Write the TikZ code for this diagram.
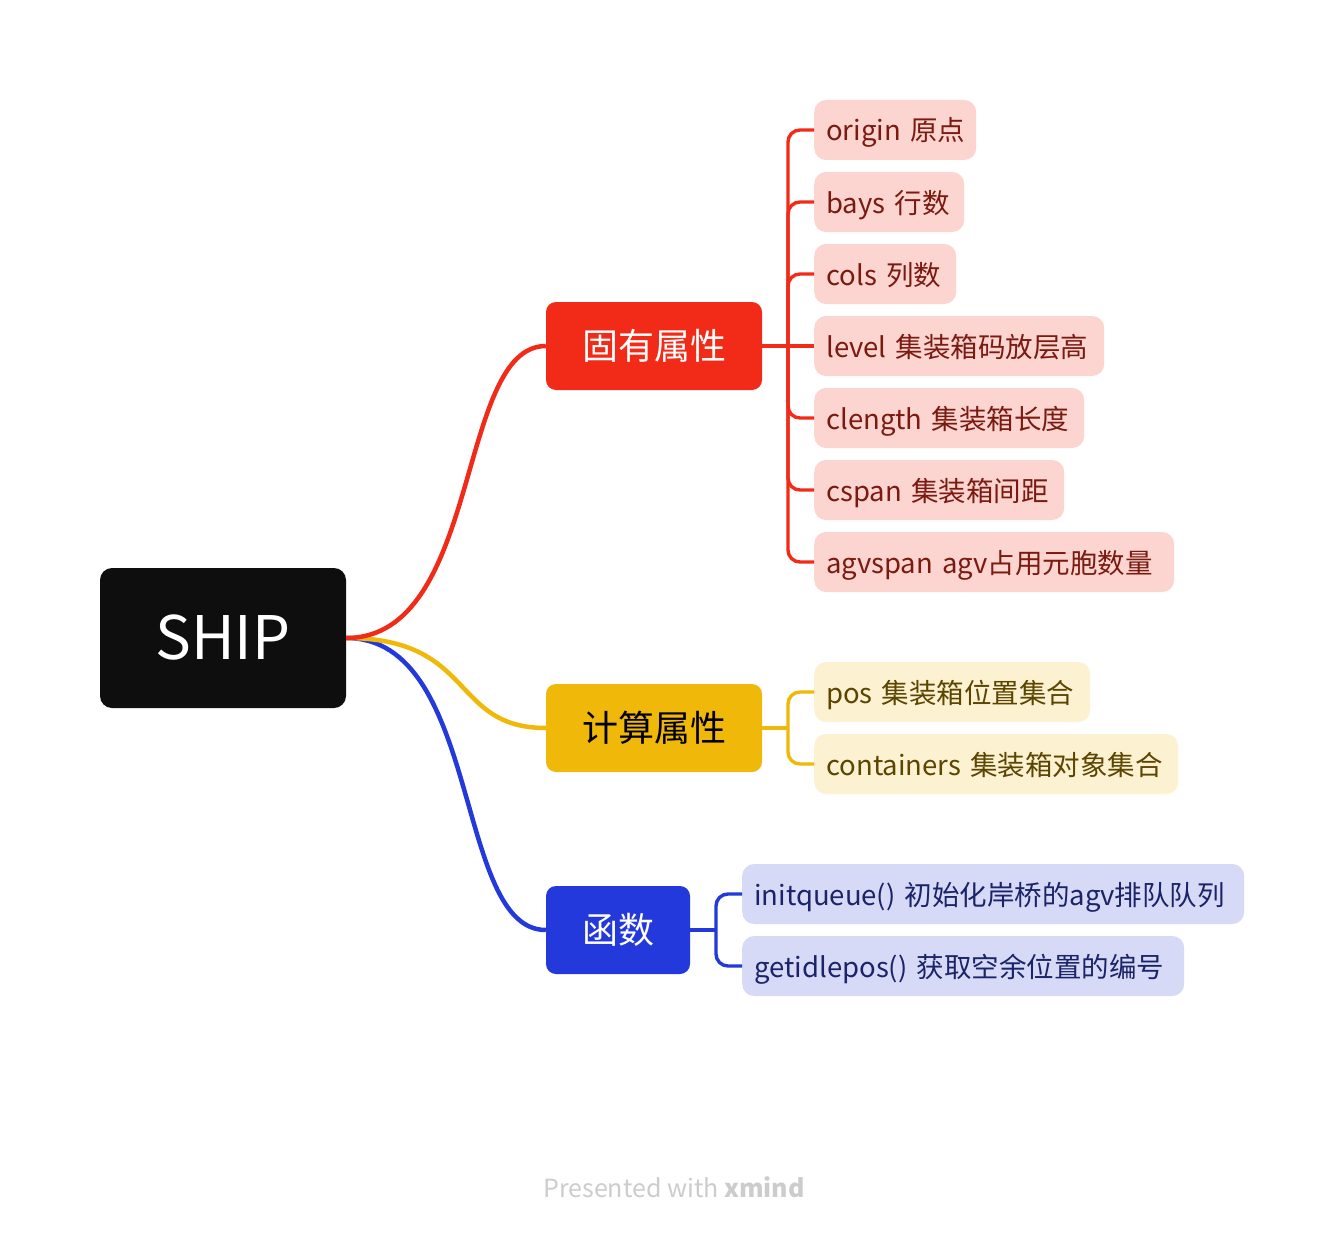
\documentclass[tikz,border=0pt]{standalone}
\usepackage{fontspec}
\setmainfont{Noto Sans CJK SC}
\definecolor{shipblack}{HTML}{0E0E0E}
\definecolor{cred}{HTML}{F22A18}
\definecolor{cyel}{HTML}{F0B808}
\definecolor{cblue}{HTML}{2339DB}
\definecolor{fred}{HTML}{FCD5D1}
\definecolor{fyel}{HTML}{FCF1D0}
\definecolor{fblue}{HTML}{D6DAF6}
\definecolor{tred}{HTML}{7A1A10}
\definecolor{tyel}{HTML}{5C4500}
\definecolor{tblue}{HTML}{1B2468}
\definecolor{wm}{HTML}{CCCCCC}
\begin{document}
\begin{tikzpicture}[x=1pt,y=-1pt,
  rootbox/.style={fill=shipblack,text=white,rounded corners=12pt,minimum width=246pt,minimum height=140pt,inner sep=0pt,font=\fontsize{60}{70}\selectfont},
  parbox/.style={rounded corners=10pt,minimum height=88pt,inner sep=0pt,font=\fontsize{36}{42}\selectfont},
  leafbox/.style={rounded corners=12pt,minimum height=60pt,inner xsep=12pt,inner ysep=0pt,anchor=west,align=left,text height=26pt,text depth=4pt,font=\fontsize{27.5}{32}\selectfont},
  mainline/.style={line width=4.5pt},
  brline/.style={line width=3.4pt,rounded corners=12pt}]
\useasboundingbox (0,0) rectangle (1344,1236);
\fill[white] (0,0) rectangle (1344,1236);

\node[rootbox] (ship) at (223,638) {SHIP};

\node[parbox,fill=cred,text=white,minimum width=216pt] (p1) at (654,346) {固有属性};
\node[parbox,fill=cyel,text=black,minimum width=216pt] (p2) at (654,728) {计算属性};
\node[parbox,fill=cblue,text=white,minimum width=144pt] (p3) at (618,930) {函数};

% red leaves
\node[leafbox,fill=fred,text=tred,text width=138pt] (r1) at (814,130) {\mbox{origin 原点}};
\node[leafbox,fill=fred,text=tred,text width=126pt] (r2) at (814,202) {\mbox{bays 行数}};
\node[leafbox,fill=fred,text=tred,text width=118pt] (r3) at (814,274) {\mbox{cols 列数}};
\node[leafbox,fill=fred,text=tred,text width=266pt] (r4) at (814,346) {\mbox{level 集装箱码放层高}};
\node[leafbox,fill=fred,text=tred,text width=246pt] (r5) at (814,418) {\mbox{clength 集装箱长度}};
\node[leafbox,fill=fred,text=tred,text width=226pt] (r6) at (814,490) {\mbox{cspan 集装箱间距}};
\node[leafbox,fill=fred,text=tred,text width=336pt] (r7) at (814,562) {\mbox{agvspan agv占用元胞数量}};

% yellow leaves
\node[leafbox,fill=fyel,text=tyel,text width=252pt] (y1) at (814,692) {\mbox{pos 集装箱位置集合}};
\node[leafbox,fill=fyel,text=tyel,text width=340pt] (y2) at (814,764) {\mbox{containers 集装箱对象集合}};

% blue leaves
\node[leafbox,fill=fblue,text=tblue,text width=478pt] (b1) at (742,894) {\mbox{initqueue() 初始化岸桥的agv排队队列}};
\node[leafbox,fill=fblue,text=tblue,text width=418pt] (b2) at (742,966) {\mbox{getidlepos() 获取空余位置的编号}};

% main curves
\draw[mainline,cblue] (ship.east) .. controls +(136,0) and +(-92,0) .. (p3.west);
\draw[mainline,cyel] (ship.east) .. controls +(130,0) and +(-96,0) .. (p2.west);
\draw[mainline,cred] (ship.east) .. controls +(136,0) and +(-90,0) .. (p1.west);

% red bracket
\coordinate (rj) at (788,346);
\draw[brline,cred] (p1.east) -- (rj);
\draw[brline,cred] (rj) |- (r1.west);
\draw[brline,cred] (rj) |- (r2.west);
\draw[brline,cred] (rj) |- (r3.west);
\draw[brline,cred] (rj) -- (r4.west);
\draw[brline,cred] (rj) |- (r5.west);
\draw[brline,cred] (rj) |- (r6.west);
\draw[brline,cred] (rj) |- (r7.west);

% yellow bracket
\coordinate (yj) at (788,728);
\draw[brline,cyel] (p2.east) -- (yj);
\draw[brline,cyel] (yj) |- (y1.west);
\draw[brline,cyel] (yj) |- (y2.west);

% blue bracket
\coordinate (bj) at (716,930);
\draw[brline,cblue] (p3.east) -- (bj);
\draw[brline,cblue] (bj) |- (b1.west);
\draw[brline,cblue] (bj) |- (b2.west);

\node[text=wm,font=\fontsize{25}{30}\selectfont] (wmark) at (674,1187) {Presented with \textbf{xmind}};
\end{tikzpicture}
\end{document}
